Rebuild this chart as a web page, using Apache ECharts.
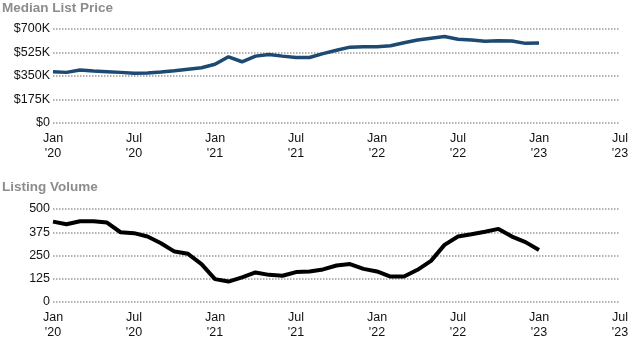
<!DOCTYPE html>
<html><head><meta charset="utf-8">
<script src="https://cdn.jsdelivr.net/npm/echarts@6/dist/echarts.min.js"></script>
<style>html,body{margin:0;padding:0;background:#fff}#c{width:633px;height:350px}</style>
</head><body><div id="c"></div>
<script>
// Monthly data, Jan 2020 .. Jan 2023 (index 0..36)
const months = ["2020-01","2020-02","2020-03","2020-04","2020-05","2020-06","2020-07","2020-08","2020-09","2020-10","2020-11","2020-12",
"2021-01","2021-02","2021-03","2021-04","2021-05","2021-06","2021-07","2021-08","2021-09","2021-10","2021-11","2021-12",
"2022-01","2022-02","2022-03","2022-04","2022-05","2022-06","2022-07","2022-08","2022-09","2022-10","2022-11","2022-12","2023-01"];
const medianListPrice = [382,377,394,387,382,377,370,372,380,389,400,411,
437,493,456,498,510,498,488,488,517,542,565,568,
568,575,598,618,631,644,624,618,609,613,611,593,596]; // in $K
const listingVolume = [432,418,434,434,427,375,370,352,316,271,259,204,
123,110,132,159,146,141,161,164,175,196,204,178,
164,137,137,173,221,307,352,364,378,393,352,322,280];
const tickLabels = ["Jan\n'20","Jul\n'20","Jan\n'21","Jul\n'21","Jan\n'22","Jul\n'22","Jan\n'23","Jul\n'23"];
const priceTicks = [0,175,350,525,700];
const volumeTicks = [0,125,250,375,500];

const font = "'Liberation Sans', Arial, sans-serif";
const gridLine = {show:true, lineStyle:{color:'#9a9a9a', type:[1.5,1.5], width:1.5}};
function xAxis(gi){
  return {type:'value', gridIndex:gi, min:0, max:42, interval:6,
    axisLine:{show:false}, axisTick:{show:false}, splitLine:{show:false},
    axisLabel:{fontFamily:font, fontSize:12.5, color:'#111', lineHeight:15, margin:8,
      formatter:v=>tickLabels[Math.round(v/6)]||''}};
}
function yAxis(gi, ticks, fmt){
  return {type:'value', gridIndex:gi, min:ticks[0], max:ticks[ticks.length-1], interval:ticks[1]-ticks[0],
    axisLine:{show:false}, axisTick:{show:false}, splitLine:gridLine,
    axisLabel:{fontFamily:font, fontSize:12.5, color:'#111', margin:3, formatter:fmt}};
}
const chart = echarts.init(document.getElementById('c'), null, {renderer:'canvas'});
chart.setOption({
  animation:false,
  title:[
    {text:'Median List Price', left:2, top:1, padding:0, textStyle:{fontFamily:font, fontSize:13.5, fontWeight:'bold', color:'#8c8c8c'}},
    {text:'Listing Volume', left:2, top:180, padding:0, textStyle:{fontFamily:font, fontSize:13.5, fontWeight:'bold', color:'#8c8c8c'}}
  ],
  grid:[
    {left:53, right:13, top:29, height:94},
    {left:53, right:13, top:209, height:93}
  ],
  xAxis:[xAxis(0), xAxis(1)],
  yAxis:[
    yAxis(0, priceTicks, v=> v===0 ? '$0' : '$'+v+'K'),
    yAxis(1, volumeTicks, v=> String(v))
  ],
  series:[
    {type:'line', xAxisIndex:0, yAxisIndex:0, symbol:'none', smooth:false,
      lineStyle:{color:'#1c4a73', width:3.5},
      data: medianListPrice.map((v,i)=>[i,v])},
    {type:'line', xAxisIndex:1, yAxisIndex:1, symbol:'none', smooth:false,
      lineStyle:{color:'#000', width:4},
      data: listingVolume.map((v,i)=>[i,v])}
  ]
});
</script></body></html>
